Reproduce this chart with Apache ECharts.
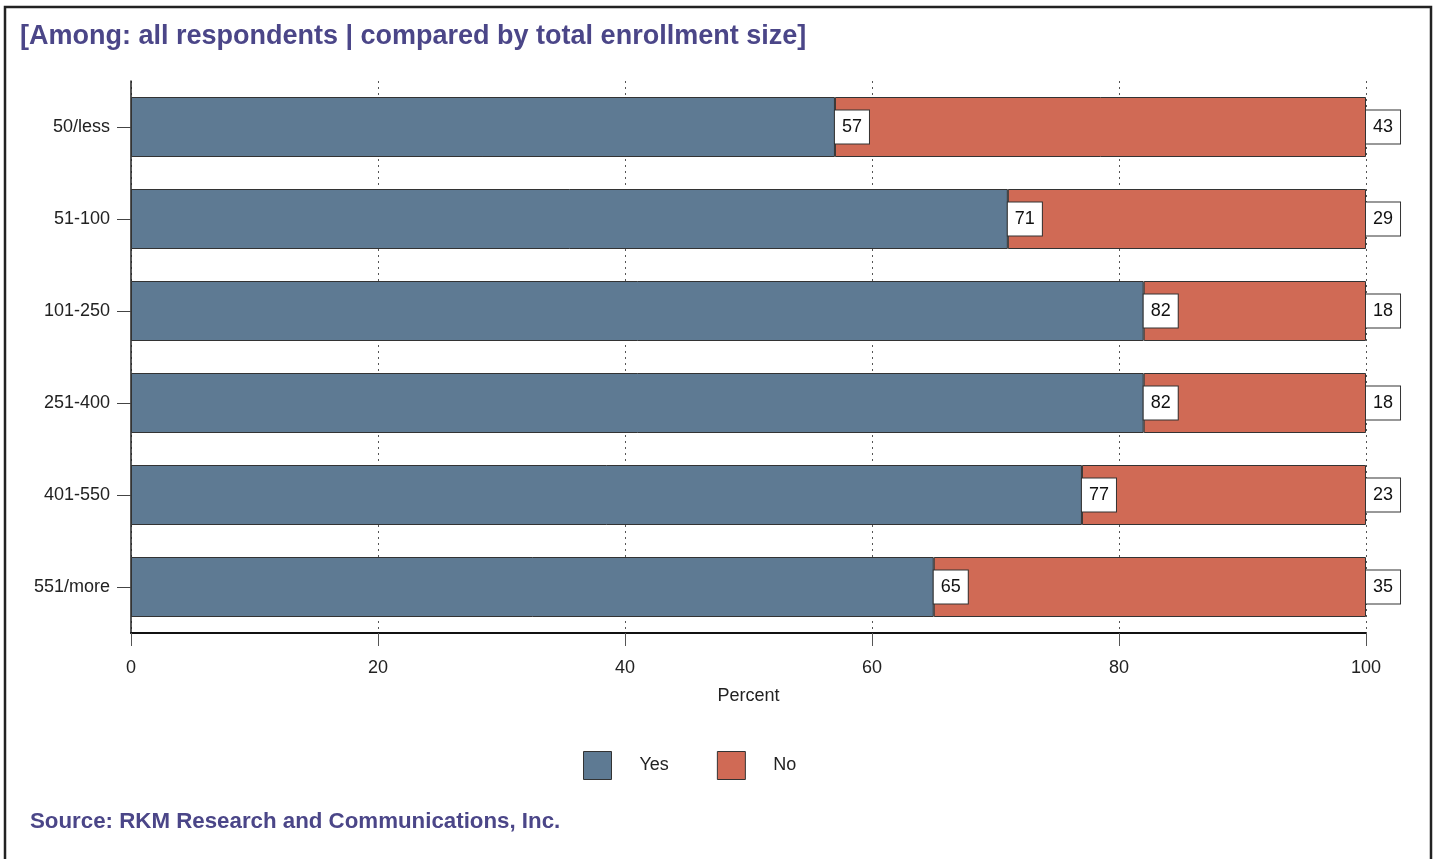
<!DOCTYPE html>
<html>
<head>
<meta charset="utf-8">
<script src="https://cdn.jsdelivr.net/npm/echarts@6/dist/echarts.min.js"></script>
<style>
  html, body { margin: 0; padding: 0; background: #fff; }
  #chart { width: 1441px; height: 859px; }
</style>
</head>
<body>
<div id="chart"></div>
<script>
// enrollment size groups, top to bottom
const categories = ['50/less', '51-100', '101-250', '251-400', '401-550', '551/more'];
const yesValues = [57, 71, 82, 82, 77, 65];
const noValues = [43, 29, 18, 18, 23, 35];
const xTicks = [0, 20, 40, 60, 80, 100];

const titleColor = '#4b4688';
const font = 'Liberation Sans, Arial, Helvetica, sans-serif';

const chart = echarts.init(document.getElementById('chart'));

// label box at the end of each bar segment
const boxLabel = {
  show: true,
  position: 'right',
  distance: 0,
  color: '#111',
  fontSize: 18,
  fontFamily: font,
  backgroundColor: '#fff',
  borderColor: '#333',
  borderWidth: 1,
  padding: [8, 7, 7, 7]
};

const option = {
  animation: false,
  textStyle: { fontFamily: font },
  graphic: [
    {
      type: 'rect',
      shape: { x: 5, y: 7, width: 1426, height: 870 },
      style: { fill: 'none', stroke: '#222', lineWidth: 2.5 },
      silent: true
    },
    {
      type: 'text',
      left: 20, top: 23,
      style: {
        text: '[Among: all respondents | compared by total enrollment size]',
        fill: titleColor,
        font: 'bold 27px ' + font
      }
    },
    {
      type: 'text',
      left: 30, top: 811,
      style: {
        text: 'Source: RKM Research and Communications, Inc.',
        fill: titleColor,
        font: 'bold 22.3px ' + font
      }
    }
  ],
  legend: {
    data: ['Yes', 'No'],
    left: 578,
    top: 746,
    itemWidth: 28,
    itemHeight: 28,
    itemGap: 48,
    icon: 'rect',
    textStyle: { fontSize: 18, color: '#222', padding: [0, 0, 0, 23] },
    itemStyle: { borderColor: '#333', borderWidth: 1 }
  },
  grid: {
    left: 131,
    right: 75,
    top: 81,
    bottom: 226
  },
  xAxis: {
    type: 'value',
    min: 0,
    max: 100,
    interval: 20,
    name: 'Percent',
    nameLocation: 'middle',
    nameGap: 54,
    nameTextStyle: { fontSize: 18, color: '#222' },
    axisLine: { show: true, lineStyle: { color: '#111', width: 2 } },
    axisTick: { show: true, length: 13, lineStyle: { color: '#555' } },
    axisLabel: {
      fontSize: 18, color: '#222', margin: 26,
      formatter: v => xTicks.includes(v) ? String(v) : ''
    },
    splitLine: { show: true, lineStyle: { color: '#555', type: [2, 4], width: 1 } }
  },
  yAxis: {
    type: 'category',
    data: categories,
    inverse: true,
    axisLine: { show: true, lineStyle: { color: '#222', width: 1.5 } },
    axisTick: { show: true, alignWithLabel: true, length: 14, lineStyle: { color: '#444' } },
    axisLabel: { fontSize: 18, color: '#222', margin: 21 }
  },
  series: [
    {
      name: 'Yes',
      type: 'bar',
      stack: 'total',
      barWidth: 60,
      data: yesValues,
      itemStyle: { color: '#5e7a93', borderColor: '#333', borderWidth: 1 },
      label: boxLabel
    },
    {
      name: 'No',
      type: 'bar',
      stack: 'total',
      barWidth: 60,
      data: noValues,
      itemStyle: { color: '#d06a55', borderColor: '#333', borderWidth: 1 },
      label: boxLabel
    }
  ]
};

chart.setOption(option);
</script>
</body>
</html>
